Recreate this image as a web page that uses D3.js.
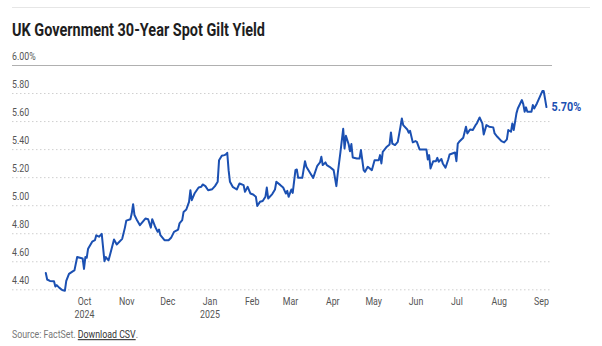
<!DOCTYPE html>
<html>
<head>
<meta charset="utf-8">
<script src="https://cdn.jsdelivr.net/npm/d3@7"></script>
<style>
  html, body { margin: 0; padding: 0; background: #fff; }
  svg { display: block; }
  .lbl { font-family: Roboto, "Liberation Sans", sans-serif; }
</style>
</head>
<body>
<svg id="chart" width="602" height="346"></svg>
<script>
const title = "UK Government 30-Year Spot Gilt Yield";
const yTicks = [4.4, 4.6, 4.8, 5.0, 5.2, 5.4, 5.6, 5.8, 6.0];
const yTickLabels = ["4.40", "4.60", "4.80", "5.00", "5.20", "5.40", "5.60", "5.80", "6.00%"];
const monthTicks = ["2024-10-01","2024-11-01","2024-12-01","2025-01-01","2025-02-01","2025-03-01","2025-04-01","2025-05-01","2025-06-01","2025-07-01","2025-08-01","2025-09-01"];
const monthLabels = ["Oct","Nov","Dec","Jan","Feb","Mar","Apr","May","Jun","Jul","Aug","Sep"];
const yearLabels = ["2024","","","2025","","","","","","","",""];

const dates = [
"2024-09-03","2024-09-04","2024-09-06","2024-09-09","2024-09-10","2024-09-11","2024-09-13","2024-09-15","2024-09-17","2024-09-18",
"2024-09-20","2024-09-23","2024-09-24","2024-09-26","2024-09-28","2024-09-30","2024-10-01","2024-10-02","2024-10-03","2024-10-04",
"2024-10-07","2024-10-09","2024-10-10","2024-10-12","2024-10-14","2024-10-16","2024-10-17","2024-10-19","2024-10-21","2024-10-23",
"2024-10-25","2024-10-29","2024-10-31","2024-11-01","2024-11-04","2024-11-05","2024-11-06","2024-11-07","2024-11-09","2024-11-11",
"2024-11-15","2024-11-17","2024-11-19","2024-11-20","2024-11-22","2024-11-24","2024-11-25","2024-11-26","2024-11-29","2024-12-02",
"2024-12-04","2024-12-06","2024-12-08","2024-12-09","2024-12-10","2024-12-12","2024-12-13","2024-12-15","2024-12-17","2024-12-18",
"2024-12-19","2024-12-21","2024-12-24","2024-12-26","2024-12-27","2024-12-29","2024-12-31","2025-01-03","2025-01-05","2025-01-07",
"2025-01-08","2025-01-10","2025-01-12","2025-01-13","2025-01-14","2025-01-15","2025-01-16","2025-01-18","2025-01-21","2025-01-23",
"2025-01-26","2025-01-27","2025-01-29","2025-01-31","2025-02-02","2025-02-04","2025-02-05","2025-02-07","2025-02-09","2025-02-11",
"2025-02-12","2025-02-13","2025-02-16","2025-02-18","2025-02-19","2025-02-22","2025-02-24","2025-02-26","2025-02-27","2025-02-28",
"2025-03-02","2025-03-03","2025-03-05","2025-03-06","2025-03-07","2025-03-10","2025-03-12","2025-03-13","2025-03-16","2025-03-18",
"2025-03-21","2025-03-23","2025-03-24","2025-03-25","2025-03-27","2025-03-28","2025-03-30","2025-04-02","2025-04-04","2025-04-05",
"2025-04-07","2025-04-09","2025-04-10","2025-04-11","2025-04-13","2025-04-14","2025-04-15","2025-04-16","2025-04-19","2025-04-21",
"2025-04-22","2025-04-24","2025-04-25","2025-04-27","2025-04-30","2025-05-02","2025-05-05","2025-05-06","2025-05-07","2025-05-08",
"2025-05-11","2025-05-13","2025-05-14","2025-05-15","2025-05-17","2025-05-19","2025-05-21","2025-05-22","2025-05-23","2025-05-26",
"2025-05-27","2025-05-28","2025-05-30","2025-06-01","2025-06-02","2025-06-04","2025-06-07","2025-06-09","2025-06-10","2025-06-11",
"2025-06-12","2025-06-14","2025-06-16","2025-06-17","2025-06-18","2025-06-20","2025-06-21","2025-06-23","2025-06-25","2025-06-26",
"2025-06-28","2025-06-30","2025-07-01","2025-07-02","2025-07-03","2025-07-06","2025-07-08","2025-07-09","2025-07-11","2025-07-13",
"2025-07-15","2025-07-16","2025-07-18","2025-07-20","2025-07-21","2025-07-23","2025-07-25","2025-07-28","2025-07-29","2025-07-31",
"2025-08-03","2025-08-05","2025-08-07","2025-08-08","2025-08-10","2025-08-11","2025-08-12","2025-08-14","2025-08-15","2025-08-18",
"2025-08-19","2025-08-20","2025-08-21","2025-08-22","2025-08-25","2025-08-26","2025-08-27","2025-08-29","2025-09-02","2025-09-03",
"2025-09-05"
];
const yields = [
4.516,4.47,4.46,4.457,4.42,4.43,4.41,4.395,4.39,4.46,
4.51,4.53,4.535,4.63,4.625,4.62,4.545,4.63,4.625,4.69,
4.74,4.75,4.785,4.775,4.795,4.60,4.63,4.607,4.68,4.755,
4.72,4.76,4.84,4.89,4.90,4.94,5.007,4.93,4.89,4.857,
4.905,4.90,4.84,4.90,4.85,4.81,4.826,4.786,4.75,4.75,
4.77,4.81,4.82,4.826,4.87,4.893,4.952,4.969,5.024,5.107,
5.036,5.083,5.126,5.131,5.148,5.136,5.107,5.114,5.136,5.167,
5.321,5.352,5.357,5.362,5.374,5.25,5.167,5.131,5.112,5.155,
5.143,5.095,5.131,5.083,5.076,5.06,4.995,5.024,5.03,5.06,
5.126,5.048,5.079,5.112,5.167,5.143,5.126,5.083,5.102,5.06,
5.112,5.088,5.25,5.255,5.195,5.195,5.314,5.274,5.226,5.195,
5.281,5.305,5.345,5.286,5.305,5.286,5.274,5.25,5.136,5.226,
5.38,5.545,5.405,5.495,5.435,5.385,5.436,5.34,5.333,5.333,
5.393,5.25,5.238,5.274,5.25,5.321,5.321,5.357,5.298,5.381,
5.417,5.433,5.519,5.44,5.429,5.452,5.56,5.619,5.571,5.54,
5.517,5.531,5.448,5.457,5.452,5.398,5.398,5.398,5.326,5.357,
5.262,5.314,5.314,5.338,5.31,5.329,5.298,5.267,5.326,5.362,
5.369,5.376,5.314,5.44,5.452,5.481,5.56,5.512,5.54,5.536,
5.571,5.583,5.626,5.583,5.505,5.571,5.56,5.555,5.512,5.488,
5.457,5.448,5.469,5.536,5.524,5.583,5.536,5.655,5.69,5.75,
5.721,5.667,5.698,5.667,5.667,5.714,5.69,5.726,5.814,5.814,
5.70
];
const lastLabel = "5.70%";

const parse = d3.timeParse("%Y-%m-%d");
const data = dates.map((d, i) => ({ date: parse(d), value: yields[i] }));
const ticks = monthTicks.map(parse);

const svg = d3.select("#chart");
const left = 12, gridRight = 552;
const squeeze = "scale(0.8,1)";

const x = d3.scaleTime().domain([ticks[0], ticks[ticks.length - 1]]).range([84, 541]);
const y = d3.scaleLinear().domain([4.4, 6.0]).range([289.3, 65]);

// top separator
svg.append("line").attr("x1", left).attr("x2", 590).attr("y1", 7.5).attr("y2", 7.5)
  .attr("stroke", "#e6e6e6").attr("stroke-width", 1);

// title
svg.append("text").attr("x", left).attr("y", 36)
  .attr("font-family", "Roboto, 'Liberation Sans', sans-serif")
  .attr("font-weight", 700).attr("font-size", 17.5).attr("fill", "#1e1e1e")
  .attr("textLength", 253).attr("lengthAdjust", "spacingAndGlyphs")
  .text(title);

// y axis grid + labels
const yAxis = d3.axisRight(y).tickValues(yTicks).tickSize(gridRight - left)
  .tickFormat((d, i) => yTickLabels[i]);
const gy = svg.append("g").attr("transform", `translate(${left},0)`).call(yAxis);
gy.select(".domain").remove();
gy.selectAll(".tick line")
  .attr("stroke", d => d === 6.0 ? "#b0b0b0" : "#cfcfcf")
  .attr("stroke-dasharray", d => d === 6.0 ? null : "1.5,2.5")
  .attr("stroke-width", 1);
gy.selectAll(".tick text")
  .attr("class", "lbl")
  .attr("x", 0).attr("dy", -6).attr("text-anchor", "start")
  .attr("transform", squeeze)
  .attr("font-size", 11).attr("fill", "#555");

// x axis
const xAxis = d3.axisBottom(x).tickValues(ticks).tickSize(0).tickFormat((d, i) => monthLabels[i]);
const gx = svg.append("g").attr("transform", "translate(0,290)").call(xAxis);
gx.select(".domain").remove();
gx.selectAll(".tick text")
  .attr("class", "lbl")
  .attr("y", 15).attr("dy", 0)
  .attr("transform", squeeze)
  .attr("font-size", 11).attr("fill", "#555");
gx.selectAll(".tick").each(function(d, i) {
  if (yearLabels[i]) {
    d3.select(this).append("text").attr("class", "lbl")
      .attr("y", 28.5).attr("text-anchor", "middle")
      .attr("transform", squeeze)
      .attr("font-size", 11).attr("fill", "#555")
      .text(yearLabels[i]);
  }
});

// line
const line = d3.line().x(d => x(d.date)).y(d => y(d.value)).curve(d3.curveLinear);
svg.append("path").datum(data)
  .attr("fill", "none").attr("stroke", "#1b50b2").attr("stroke-width", 2)
  .attr("stroke-linejoin", "round").attr("stroke-linecap", "round")
  .attr("d", line);

// end label
const last = data[data.length - 1];
svg.append("text")
  .attr("transform", `translate(${x(last.date) + 5},${y(last.value) + 4}) scale(0.9,1)`)
  .attr("font-family", "Roboto, 'Liberation Sans', sans-serif")
  .attr("font-weight", 700).attr("font-size", 12).attr("fill", "#1b50b2")
  .text(lastLabel);

// source
const src = svg.append("text").attr("class", "lbl")
  .attr("transform", `translate(${left},338) scale(0.8,1)`)
  .attr("font-size", 11).attr("fill", "#777");
src.append("tspan").text("Source: FactSet. ");
src.append("tspan").attr("fill", "#333").attr("text-decoration", "underline").text("Download CSV");
src.append("tspan").text(".");
</script>
</body>
</html>
